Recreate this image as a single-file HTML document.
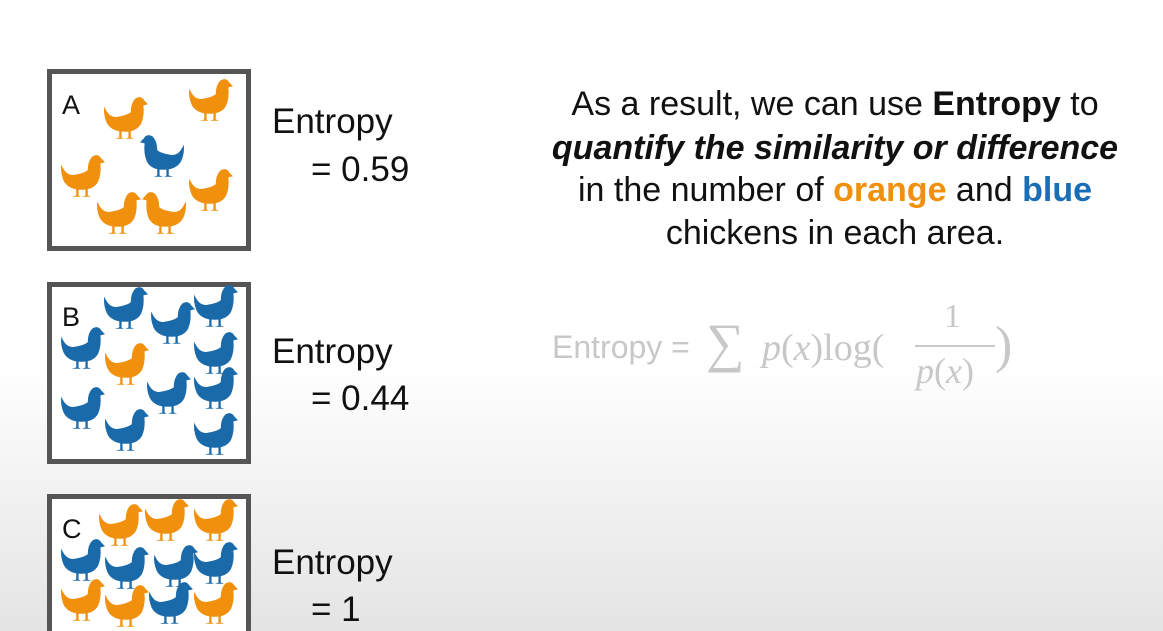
<!DOCTYPE html>
<html><head><meta charset="utf-8"><style>
html,body{margin:0;padding:0;width:1163px;height:631px;overflow:hidden}
body{position:relative;font-family:"Liberation Sans",sans-serif;background:linear-gradient(#fff 0,#fff 360px,#e4e4e4 631px)}
.box{position:absolute;left:47px;width:194px;border:5px solid #555;background:#fff}
.lbl{position:absolute;font-size:27px;color:#111}
.t{position:absolute;font-size:35px;color:#111}
.r{position:absolute;left:480px;width:710px;text-align:center;font-size:34px;color:#111}
svg.ck{position:absolute;width:46px;height:46px}
.f{position:absolute;font-family:'Liberation Serif',serif}
</style></head><body>
<svg width="0" height="0" style="position:absolute"><defs>
<symbol id="hen" viewBox="0 0 40 40"><path d="M2,10 Q6,20 13,19 Q21,18 25,15 Q25,7 29,3 Q34,0 37,5 L40,8 L36,9 Q37,18 34,25 Q30,32 20,32 Q8,32 4,24 Q1,17 2,10 Z"/><path d="M15,31 L15,37 L11,38 L19,38 L17,37 L17,31 Z M23,31 L23,37 L20,38 L28,38 L25,37 L25,31 Z"/></symbol>
</defs></svg>

<div class="box" style="top:69px;height:172px"></div>
<div class="box" style="top:282px;height:172px"></div>
<div class="box" style="top:494px;height:132px;border-bottom:none"></div>
<div class="lbl" style="left:62px;top:90px">A</div>
<div class="lbl" style="left:62px;top:302px">B</div>
<div class="lbl" style="left:62px;top:514px">C</div>
<div id="hens" style="position:absolute;left:0;top:0;width:1163px;height:631px;overflow:hidden"></div>

<div class="t" style="left:272px;top:102px">Entropy</div>
<div class="t" style="left:311px;top:150px">= 0.59</div>
<div class="t" style="left:272px;top:332px">Entropy</div>
<div class="t" style="left:311px;top:379px">= 0.44</div>
<div class="t" style="left:272px;top:543px">Entropy</div>
<div class="t" style="left:311px;top:590px">= 1</div>

<div class="r" style="top:85px">As a result, we can use <b>Entropy</b> to</div>
<div class="r" style="top:129px"><b><i>quantify the similarity or difference</i></b></div>
<div class="r" style="top:171px">in the number of <b style="color:#f0900c">orange</b> and <b style="color:#1a6eb5">blue</b></div>
<div class="r" style="top:214px">chickens in each area.</div>

<div style="position:absolute;left:552px;top:300px;color:#c8c8c8;height:110px;width:470px">
<span style="position:absolute;left:0;top:29px;font-size:32px">Entropy =</span>
<span class="f" style="position:absolute;left:154px;top:12px;font-size:54px">∑</span>
<span class="f" style="position:absolute;left:210px;top:26px;font-size:38px"><i>p</i>(<i>x</i>)log(</span>
<span class="f" style="position:absolute;left:392px;top:-2px;font-size:34px">1</span>
<span style="position:absolute;left:363px;top:45px;width:80px;border-top:2px solid #c8c8c8"></span>
<span class="f" style="position:absolute;left:364px;top:50px;font-size:36px"><i>p</i>(<i>x</i>)</span>
<span class="f" style="position:absolute;left:443px;top:16px;font-size:52px">)</span>
</div>

<script>
const O='#f0900c',B='#1a6aaa';
const hens=[
[125,118,O,1],[210,100,O,1],[163,156,B,0],[82,176,O,1],[118,213,O,1],[165,213,O,0],[210,190,O,1],
[125,308,B,1],[172,323,B,1],[215,306,B,1],[82,348,B,1],[126,364,O,1],[215,353,B,1],[168,393,B,1],[215,388,B,1],[82,408,B,1],[126,430,B,1],[215,434,B,1],
[120,525,O,1],[166,520,O,1],[215,520,O,1],[82,560,B,1],[126,568,B,1],[175,566,B,1],[215,563,B,1],[82,600,O,1],[126,606,O,1],[170,603,B,1],[215,603,O,1]
];
const host=document.getElementById('hens');
hens.forEach(h=>{
 const s=document.createElementNS('http://www.w3.org/2000/svg','svg');
 s.setAttribute('class','ck');
 s.setAttribute('viewBox','0 0 40 40');
 
 
 s.style.left=(h[0]-23)+'px';s.style.top=(h[1]-23)+'px';s.style.fill=h[2];
 if(!h[3])s.style.transform='scaleX(-1)';
 s.innerHTML='<use href="#hen"/>';
 host.appendChild(s);
});
</script>
</body></html>
